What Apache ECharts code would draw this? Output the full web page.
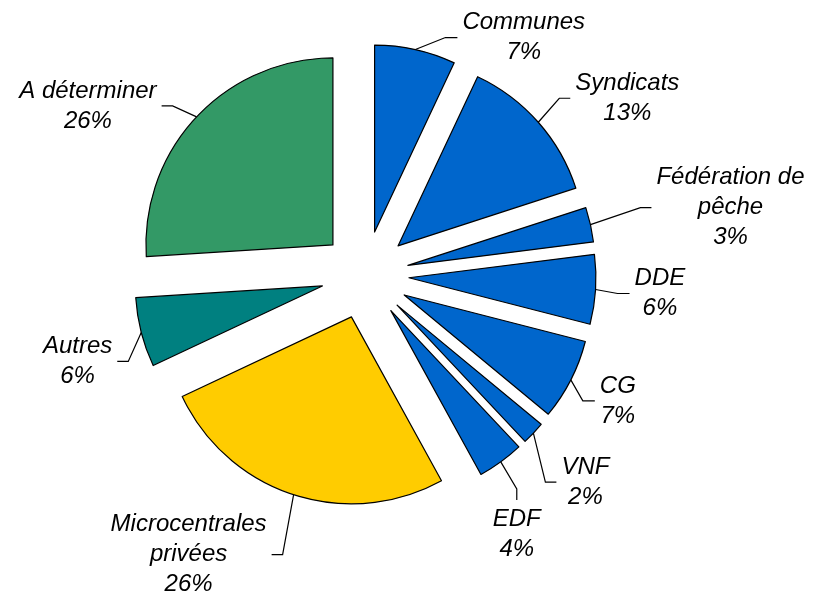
<!DOCTYPE html>
<html>
<head>
<meta charset="utf-8">
<script src="https://cdn.jsdelivr.net/npm/echarts@6/dist/echarts.min.js"></script>
<style>
  html, body { margin: 0; padding: 0; background: #fff; }
  #chart { width: 815px; height: 594px; }
</style>
</head>
<body>
<div id="chart"></div>
<script>
// parts, clockwise from 12 o'clock
var names = ['Communes', 'Syndicats', 'Fédération de\npêche', 'DDE', 'CG', 'VNF', 'EDF',
             'Microcentrales\nprivées', 'Autres', 'A déterminer'];
var values = [7, 13, 3, 6, 7, 2, 4, 26, 6, 26];
var colors = ['#0066CC', '#0066CC', '#0066CC', '#0066CC', '#0066CC', '#0066CC', '#0066CC',
              '#FFCC00', '#008080', '#339966'];

var chart = echarts.init(document.getElementById('chart'));

var data = names.map(function (n, i) {
    return {
        name: n,
        value: values[i],
        selected: true,
        itemStyle: { color: colors[i] }
    };
});

// leader line shape, Excel-like: first segment then short elbow (dx1, dy1, dx2, dy2)
var leaderShape = [
    [30, -12, 12, 0],
    [21, -24, 11, 0],
    [50, -17, 11, 0],
    [22, 4, 12, 0],
    [12, 21, 12, 0],
    [12, 49, 11, 0],
    [16, 27, 0, 11],
    [-11, 60, -11, 0],
    [-13, 29, -11, 0],
    [-24, -11, -11, 0]
];

chart.setOption({
    animation: false,
    series: [{
        type: 'pie',
        center: [365, 275],
        radius: [0, 187],
        startAngle: 90,
        clockwise: true,
        selectedMode: 'multiple',
        selectedOffset: 44,
        avoidLabelOverlap: false,
        itemStyle: {
            borderColor: '#000',
            borderWidth: 1.2
        },
        label: {
            show: true,
            position: 'outside',
            formatter: function (p) {
                return '{t|' + p.name + '}\n{t|' + p.value + '%}';
            },
            rich: {
                t: {
                    fontFamily: 'Liberation Sans, Arial, sans-serif',
                    fontStyle: 'italic',
                    fontSize: 24,
                    lineHeight: 30,
                    color: '#000',
                    align: 'center'
                }
            }
        },
        labelLine: {
            show: true,
            length: 20,
            length2: 10,
            lineStyle: { color: '#000', width: 1.2 }
        },
        labelLayout: function (p) {
            var pts = p.labelLinePoints;
            if (!pts) return { hideOverlap: false };
            var L = leaderShape[p.dataIndex];
            var s = pts[0];
            var m = [s[0] + L[0], s[1] + L[1]];
            var e = [m[0] + L[2], m[1] + L[3]];
            var dx = e[0] - pts[2][0];
            var dy = e[1] - pts[2][1];
            if (L[2] === 0) {
                // vertical elbow: label sits centred under the line end
                dx -= 5 + p.labelRect.width / 2;
                dy += 7 + p.labelRect.height / 2;
            }
            return {
                hideOverlap: false,
                labelLinePoints: [s, m, e],
                dx: dx,
                dy: dy
            };
        },
        emphasis: { disabled: true },
        data: data
    }]
});
</script>
</body>
</html>
